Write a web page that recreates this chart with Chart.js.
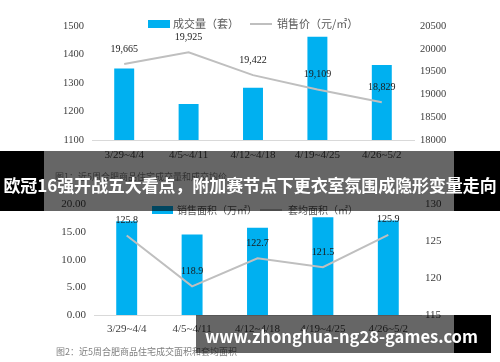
<!DOCTYPE html>
<html><head><meta charset="utf-8">
<script src="https://cdn.jsdelivr.net/npm/chart.js@4.4.1/dist/chart.umd.min.js"></script>
<style>
html,body{margin:0;padding:0;background:#fff;width:500px;height:362px;overflow:hidden;position:relative;font-family:"Noto Sans CJK SC",sans-serif}
canvas{position:absolute;left:0}
.abs{position:absolute;white-space:nowrap;line-height:1}
.lg{font-size:11px;color:#595959}
.cap{font-size:9px;color:#7f7f7f}
</style></head><body>
<canvas id="c1" width="500" height="175" style="top:0"></canvas>
<canvas id="c2" width="500" height="172" style="top:190px"></canvas>

<!-- legend chart 1 -->
<div class="abs" style="left:148px;top:20px;width:22px;height:8px;background:#00B0F0"></div>
<div class="abs lg" style="left:173px;top:18px">成交量（套）</div>
<div class="abs" style="left:250px;top:23px;width:22px;height:2px;background:#BFBFBF"></div>
<div class="abs lg" style="left:277px;top:18px">销售价（元/㎡）</div>
<div class="abs cap" style="left:55px;top:172px">图1：近5周合肥商品住宅成交量和成交均价</div>

<!-- legend chart 2 -->
<div class="abs" style="left:152px;top:206px;width:21px;height:8px;background:#00B0F0"></div>
<div class="abs lg" style="left:177px;top:205px;font-size:10px">销售面积（万㎡）</div>
<div class="abs" style="left:260px;top:209px;width:22px;height:2px;background:#BFBFBF"></div>
<div class="abs lg" style="left:288px;top:205px;font-size:10px">套均面积（㎡）</div>
<div class="abs cap" style="left:56px;top:347px">图2：近5周合肥商品住宅成交面积和套均面积</div>

<!-- banner -->
<div class="abs" style="left:0;top:151px;width:44px;height:60px;background:#000"></div>
<div class="abs" style="left:44px;top:151px;width:410px;height:60px;background:rgba(0,0,0,0.6)"></div>
<div class="abs" style="left:454px;top:151px;width:46px;height:60px;background:#000"></div>
<div class="abs" style="left:0;top:174px;width:500px;text-align:center;color:#fff;font-weight:bold;font-size:17px;line-height:22px;letter-spacing:-0.1px">欧冠16强开战五大看点，附加赛节点下更衣室氛围成隐形变量走向</div>

<!-- watermark -->
<div class="abs" style="left:196px;top:315px;width:258px;height:38px;background:rgba(0,0,0,0.6)"></div>
<div class="abs" style="left:454px;top:315px;width:37px;height:38px;background:#000"></div>
<div id="wm" class="abs" style="left:205px;top:324px;color:#fff;font-weight:bold;font-size:18px;line-height:24px;font-family:'Noto Sans CJK SC','Noto Sans',sans-serif">www.zhonghua-ng28-games.com</div>

<script>
const weeks = ['3/29~4/4', '4/5~4/11', '4/12~4/18', '4/19~4/25', '4/26~5/2'];
const volume = [1351, 1226, 1283, 1462, 1363];
const price = [19665, 19925, 19422, 19109, 18829];
const area = [17.0, 14.6, 15.8, 17.7, 17.1];
const avgArea = [125.8, 118.9, 122.7, 121.5, 125.9];
const volRange = [1100, 1500, 100];
const priceRange = [18000, 20500, 500];
const areaRange = [0, 20, 5];
const avgRange = [115, 130, 5];

const BLUE = '#00B0F0', GREY = '#BFBFBF', TXT = '#404040';
const serif = s => ({family: '"Liberation Serif","Times New Roman",serif', size: s});

// fit the watermark text to its width in the reference
(function () {
  const wm = document.getElementById('wm');
  const w = wm.getBoundingClientRect().width;
  if (w > 0) wm.style.fontSize = (18 * 273 / w).toFixed(2) + 'px';
})();

const pointLabels = {
  id: 'pointLabels',
  afterDatasetsDraw(chart, args, opts) {
    const ctx = chart.ctx;
    chart.data.datasets.forEach((ds, i) => {
      if (ds.type !== 'line') return;
      const meta = chart.getDatasetMeta(i);
      ctx.save();
      ctx.font = '10px "Liberation Serif","Times New Roman",serif';
      ctx.fillStyle = '#1a1a1a';
      ctx.textAlign = 'center';
      ctx.textBaseline = 'middle';
      meta.data.forEach((pt, j) => ctx.fillText(opts.fmt(ds.data[j]), pt.x, pt.y - 15));
      ctx.restore();
    });
  }
};

function makeChart(id, bars, line, r1, r2, fmtL, fmtLbl, cfg) {
  return new Chart(document.getElementById(id), {
    data: {
      labels: weeks,
      datasets: [
        {type: 'line', data: line, yAxisID: 'y2', borderColor: GREY, borderWidth: 2, pointRadius: 0, tension: 0, order: 0},
        {type: 'bar', data: bars, yAxisID: 'y', backgroundColor: BLUE, barPercentage: cfg.bp, categoryPercentage: 1, order: 1}
      ]
    },
    options: {
      responsive: false, animation: false, devicePixelRatio: 1,
      layout: {padding: {top: cfg.top, bottom: cfg.bottom, left: 0, right: 0}},
      plugins: {legend: {display: false}, tooltip: {enabled: false}, pointLabels: {fmt: fmtLbl}},
      scales: {
        x: {
          grid: {display: false, drawTicks: false},
          border: {display: true, color: '#D9D9D9', width: 1},
          ticks: {font: serif(11), color: TXT, padding: cfg.xpad, maxRotation: 0, autoSkip: false},
          afterFit(s) { s.height = 30; }
        },
        y: {
          position: 'left', min: r1[0], max: r1[1],
          ticks: {stepSize: r1[2], font: serif(cfg.fs), color: TXT, padding: 8, callback: fmtL},
          grid: {display: false, drawTicks: false}, border: {display: false},
          afterFit(s) { s.width = cfg.lw; }
        },
        y2: {
          position: 'right', min: r2[0], max: r2[1],
          ticks: {stepSize: r2[2], font: serif(cfg.fs), color: TXT, padding: cfg.rpad, callback: v => String(v)},
          grid: {display: false, drawTicks: false}, border: {display: false},
          afterFit(s) { s.width = cfg.rw; }
        }
      }
    },
    plugins: [pointLabels]
  });
}

makeChart('c1', volume, price, volRange, priceRange, v => String(v), v => v.toLocaleString('en-US'),
  {top: 26, bottom: 5, lw: 92, rw: 86, bp: 0.31, xpad: 9, rpad: 6, fs: 10.5});
makeChart('c2', area, avgArea, areaRange, avgRange, v => v.toFixed(2), v => v.toFixed(1),
  {top: 13, bottom: 17, lw: 94, rw: 79, bp: 0.32, xpad: 8, rpad: 4, fs: 11});
</script>
</body></html>
